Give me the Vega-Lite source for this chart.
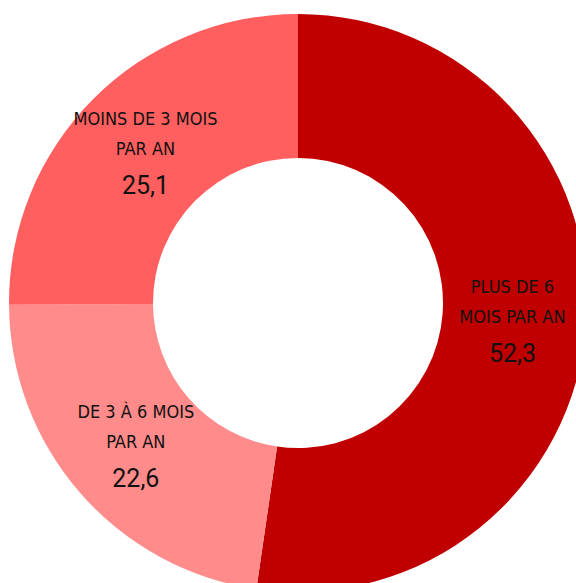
{
  "$schema": "https://vega.github.io/schema/vega-lite/v6.json",
  "width": 596,
  "height": 606,
  "autosize": {"type": "none"},
  "padding": 0,
  "background": "white",
  "view": {"stroke": null},
  "data": {
    "values": [
      {"order": 1, "cat": "Plus de 6 mois par an", "l1": "PLUS DE 6", "l2": "MOIS PAR AN", "v": 52.3, "vt": "52,3"},
      {"order": 2, "cat": "De 3 à 6 mois par an", "l1": "DE 3 À 6 MOIS", "l2": "PAR AN", "v": 22.6, "vt": "22,6"},
      {"order": 3, "cat": "Moins de 3 mois par an", "l1": "MOINS DE 3 MOIS", "l2": "PAR AN", "v": 25.1, "vt": "25,1"}
    ]
  },
  "encoding": {
    "theta": {"field": "v", "type": "quantitative", "stack": true},
    "order": {"field": "order", "type": "quantitative"}
  },
  "layer": [
    {
      "mark": {"type": "arc", "outerRadius": 289, "innerRadius": 145},
      "encoding": {
        "color": {
          "field": "cat",
          "type": "nominal",
          "scale": {
            "domain": ["Plus de 6 mois par an", "De 3 à 6 mois par an", "Moins de 3 mois par an"],
            "range": ["#C00000", "#FF8B8B", "#FF5F5F"]
          },
          "legend": null
        }
      }
    },
    {
      "mark": {"type": "text", "radius": 215, "dy": -31, "font": "DejaVu Sans Condensed", "fontSize": 18, "color": "#111111", "baseline": "middle", "align": "center"},
      "encoding": {"text": {"field": "l1", "type": "nominal"}}
    },
    {
      "mark": {"type": "text", "radius": 215, "dy": -1, "font": "DejaVu Sans Condensed", "fontSize": 18, "color": "#111111", "baseline": "middle", "align": "center"},
      "encoding": {"text": {"field": "l2", "type": "nominal"}}
    },
    {
      "mark": {"type": "text", "radius": 215, "dy": 35, "font": "Roboto, sans-serif", "fontSize": 25, "color": "#111111", "baseline": "middle", "align": "center"},
      "encoding": {"text": {"field": "vt", "type": "nominal"}}
    }
  ]
}
